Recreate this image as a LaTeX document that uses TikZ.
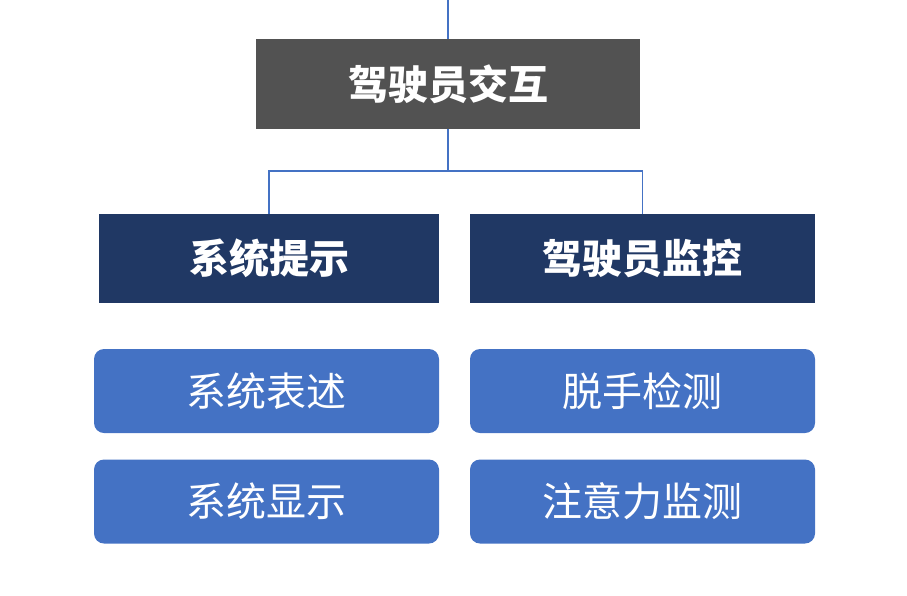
\documentclass[tikz,border=0pt]{standalone}
\usepackage{fontspec}
\newfontfamily\cjk{Noto Sans CJK SC}
\usetikzlibrary{positioning}
\definecolor{topgray}{HTML}{525252}
\definecolor{darkblue}{HTML}{203864}
\definecolor{midblue}{HTML}{4472C4}

\begin{document}
\begin{tikzpicture}[x=1pt, y=-1pt,
topbox/.style={rectangle, fill=topgray, text=white, inner sep=0pt, minimum width=384pt, minimum height=90pt, font=\cjk\bfseries\fontsize{40}{44}\selectfont},
catbox/.style={rectangle, fill=darkblue, text=white, inner sep=0pt, minimum height=89pt, font=\cjk\bfseries\fontsize{40}{44}\selectfont},
itembox/.style={rectangle, rounded corners=10pt, fill=midblue, text=white, inner sep=0pt, minimum width=345pt, minimum height=84pt, font=\cjk\fontsize{40}{44}\selectfont},
link/.style={draw=midblue, line width=1.4pt},
]
\useasboundingbox (0,0) rectangle (907,595);
%Nodes
\node[topbox]                        (top)   at (448,84)    {驾驶员交互};
\node[catbox, minimum width=340pt]   (sys)   at (269,258.5) {系统提示};
\node[catbox, minimum width=345pt]   (mon)   at (642.5,258.5) {驾驶员监控};
\node[itembox]                       (desc)  at (266.5,391) {系统表述};
\node[itembox]                       (disp)  at (266.5,501.5) {系统显示};
\node[itembox]                       (hands) at (642.5,391) {脱手检测};
\node[itembox]                       (attn)  at (642.5,501.5) {注意力监测};
\coordinate (entry) at (448,0);
\coordinate (split) at (448,171);

%Lines
\draw[link] (entry) -- (top.north);
\draw[link] (top.south) -- (split);
\draw[link] (sys.north) |- (split) -| (mon.north);
\end{tikzpicture}
\end{document}
